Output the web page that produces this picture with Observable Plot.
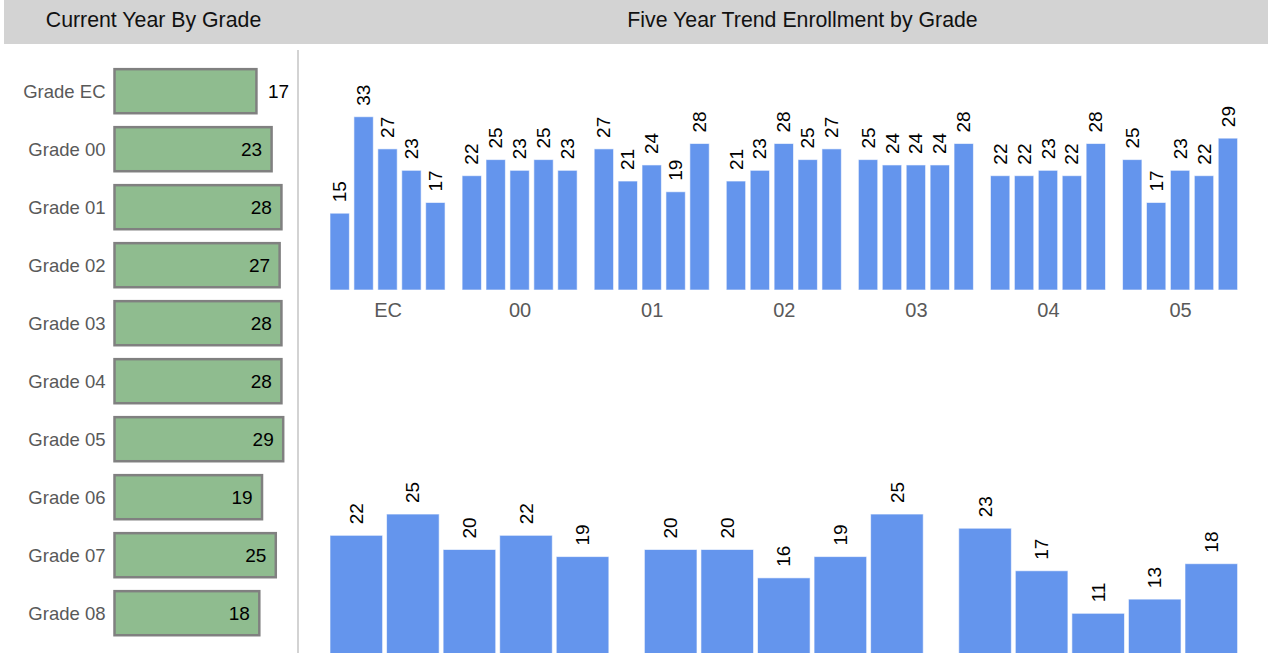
<!DOCTYPE html>
<html>
<head>
<meta charset="utf-8">
<script src="https://cdn.jsdelivr.net/npm/d3@7"></script>
<script src="https://cdn.jsdelivr.net/npm/@observablehq/plot@0.6"></script>
<style>
html, body { margin: 0; padding: 0; background: #fff; }
#root { position: relative; width: 1268px; height: 653px; overflow: hidden; font-family: "Liberation Sans", Arial, sans-serif; }
#header { position: absolute; left: 4px; top: 0; width: 1264px; height: 44px; background: #d3d3d3; }
.title { position: absolute; top: 7.5px; line-height: 24px; font-size: 21.3px; color: #111; text-align: center; white-space: nowrap; }
#divider { position: absolute; left: 297px; top: 50px; width: 2px; height: 603px; background: #d3d3d3; }
.panel { position: absolute; }
.panel svg { overflow: visible; }
</style>
</head>
<body>
<div id="root">
  <div id="header"></div>
  <div class="title" style="left:3.5px;width:300px;">Current Year By Grade</div>
  <div class="title" style="left:552.5px;width:500px;">Five Year Trend Enrollment by Grade</div>
  <div id="divider"></div>
  <div class="panel" id="left" style="left:0;top:44px;"></div>
  <div class="panel" id="top" style="left:300px;top:44px;"></div>
  <div class="panel" id="bottom" style="left:300px;top:450px;"></div>
</div>
<script>
// ---- data ----
const grades = ["EC", "00", "01", "02", "03", "04", "05", "06", "07", "08"];
const years = ["2015", "2016", "2017", "2018", "2019"];
const currentYear = [17, 23, 28, 27, 28, 28, 29, 19, 25, 18];
const trendValues = [
  [15, 33, 27, 23, 17],
  [22, 25, 23, 25, 23],
  [27, 21, 24, 19, 28],
  [21, 23, 28, 25, 27],
  [25, 24, 24, 24, 28],
  [22, 22, 23, 22, 28],
  [25, 17, 23, 22, 29],
  [22, 25, 20, 22, 19],
  [20, 20, 16, 19, 25],
  [23, 17, 11, 13, 18]
];
const topGrades = grades.slice(0, 7);
const bottomGrades = grades.slice(7);

// ---- tables ----
const leftData = grades.map((g, i) => ({grade: g, value: currentYear[i]}));
const trendData = [];
grades.forEach((g, i) => years.forEach((y, j) => trendData.push({grade: g, year: y, value: trendValues[i][j]})));
const topData = trendData.filter(d => topGrades.includes(d.grade));
const bottomData = trendData.filter(d => bottomGrades.includes(d.grade));

const font = "Liberation Sans, Arial, sans-serif";
const baseStyle = {fontFamily: font, background: "transparent", overflow: "visible"};

// ---- left: current year by grade (log scale) ----
const left = Plot.plot({
  width: 297, height: 609,
  marginLeft: 114.5, marginRight: 0, marginTop: 0, marginBottom: 0,
  style: baseStyle,
  x: {type: "log", domain: [1, 30], range: [114.5, 114.5 + 50.1 * Math.log(30)], axis: null},
  y: {type: "band", domain: grades, range: [18.2, 598.2], paddingInner: 0.24, paddingOuter: 0.12, round: false, axis: null},
  marks: [
    Plot.axisY({tickSize: 0, tickPadding: 9.5, tickFormat: d => "Grade " + d, fontSize: 18.5, color: "#595959", label: null}),
    Plot.barX(leftData, {x1: 1, x2: "value", y: "grade", fill: "#8fbc8f", stroke: "#808080", strokeWidth: 2.5}),
    Plot.text(leftData.filter(d => d.value >= 18), {x: "value", y: "grade", text: "value", textAnchor: "end", dx: -10, fontSize: 19, fill: "#000"}),
    Plot.text(leftData.filter(d => d.value < 18), {x: "value", y: "grade", text: "value", textAnchor: "start", dx: 11, fontSize: 19, fill: "#000"})
  ]
});
document.getElementById("left").appendChild(left);

// ---- right top: five year trend, grades EC-05 ----
const topPlot = Plot.plot({
  width: 968, height: 300,
  marginLeft: 30, marginRight: 30.4, marginTop: 0, marginBottom: 54,
  style: baseStyle,
  fx: {domain: topGrades, paddingInner: 0.129, paddingOuter: 0, round: false, label: null},
  x: {domain: years, paddingInner: 0.19, paddingOuter: 0, round: false, axis: null},
  y: {domain: [0, 40], range: [249.6, 249.6 - 40 * 5.36], axis: null},
  marks: [
    Plot.barY(topData, {fx: "grade", x: "year", y: "value", fill: "#6495ed", stroke: "#ffffff", strokeOpacity: 0.6, strokeWidth: 1, insetBottom: 3.6}),
    Plot.text(topData, {fx: "grade", x: "year", y: "value", text: "value", rotate: -90, textAnchor: "start", dy: -11.5, fontSize: 19, fill: "#000"}),
    Plot.axisFx({anchor: "bottom", tickSize: 0, tickPadding: 12, fontSize: 20, color: "#595959", label: null})
  ]
});
document.getElementById("top").appendChild(topPlot);

// ---- right bottom: five year trend, grades 06-08 (baseline falls below the visible page) ----
const bottomPlot = Plot.plot({
  width: 968, height: 300,
  marginLeft: 30, marginRight: 30.4, marginTop: 0, marginBottom: 63,
  style: baseStyle,
  fx: {domain: bottomGrades, paddingInner: 0.113, paddingOuter: 0, round: false, axis: null},
  x: {domain: years, paddingInner: 0.07, paddingOuter: 0, round: false, axis: null},
  y: {domain: [0, 30], range: [241.3, 241.3 - 30 * 7.09], axis: null},
  marks: [
    Plot.barY(bottomData, {fx: "grade", x: "year", y: "value", fill: "#6495ed", stroke: "#ffffff", strokeOpacity: 0.6, strokeWidth: 1, insetBottom: 4.3}),
    Plot.text(bottomData, {fx: "grade", x: "year", y: "value", text: "value", rotate: -90, textAnchor: "start", dy: -11.5, fontSize: 19, fill: "#000"})
  ]
});
document.getElementById("bottom").appendChild(bottomPlot);
</script>
</body>
</html>
